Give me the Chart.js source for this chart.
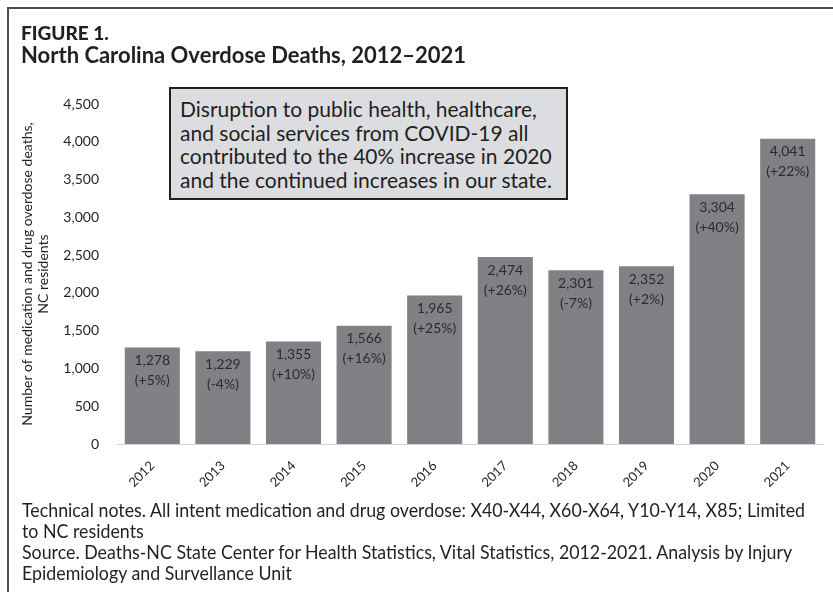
<!DOCTYPE html>
<html>
<head>
<meta charset="utf-8">
<script src="https://cdn.jsdelivr.net/npm/chart.js@4"></script>
<style>
  html, body { margin: 0; padding: 0; background: #fff; }
  body { width: 833px; height: 592px; position: relative; overflow: hidden; font-family: Lato, "Open Sans", sans-serif; color: #231f20; }
  #frame { position: absolute; left: 7px; top: 7px; width: 900px; height: 700px; border: 2px solid #4d4d4f; box-sizing: border-box; }
  #wrap { position: absolute; left: 0; top: 0; width: 833px; height: 592px; }
  .fig { position: absolute; left: 21px; top: 21px; font-size: 19px; font-weight: 900; }
  .ttl { position: absolute; left: 21px; top: 41px; font-size: 22px; font-weight: 700; }
  #note { position: absolute; left: 169px; top: 87px; width: 399px; height: 113px; box-sizing: border-box;
          border: 2px solid #231f20; background: #dcdde0; padding: 8px 0 0 9px; font-size: 21px; line-height: 23.5px; white-space: nowrap; }
  #foot { position: absolute; left: 22px; top: 499px; font-size: 19px; line-height: 21px; transform-origin: 0 0; }
  #foot div { white-space: nowrap; }
</style>
</head>
<body>
<div id="frame"></div>
<div id="wrap"><canvas id="overdoseChart" width="833" height="592"></canvas></div>
<div class="fig">FIGURE 1.</div>
<div class="ttl">North Carolina Overdose Deaths, 2012–2021</div>
<div id="note">Disruption to public health, healthcare,<br>and social services from COVID-19 all<br>contributed to the 40% increase in 2020<br>and the continued increases in our state.</div>
<div id="foot">
  <div><span id="footFirst">Technical notes. All intent medication and drug overdose: X40-X44, X60-X64, Y10-Y14, X85; Limited</span></div>
  <div>to NC residents</div>
  <div>Source. Deaths-NC State Center for Health Statistics, Vital Statistics, 2012-2021. Analysis by Injury</div>
  <div>Epidemiology and Survellance Unit</div>
</div>
<script>
// data
const years = ['2012', '2013', '2014', '2015', '2016', '2017', '2018', '2019', '2020', '2021'];
const deaths = [1278, 1229, 1355, 1566, 1965, 2474, 2301, 2352, 3304, 4041];
const changes = ['+5%', '-4%', '+10%', '+16%', '+25%', '+26%', '-7%', '+2%', '+40%', '+22%'];
const yMax = 4500;
const yStep = 500;
const yTitle = ['Number of medication and drug overdose deaths,', 'NC residents'];

// the notes use a narrow face in the original, squeeze them to the same width
const firstLine = document.getElementById('footFirst');
document.getElementById('foot').style.transform = 'scaleX(' + (783 / firstLine.offsetWidth) + ')';

// labels inside the bars
const barLabels = {
    id: 'barLabels',
    afterDatasetsDraw(chart) {
        const ctx = chart.ctx;
        const bars = chart.getDatasetMeta(0).data;
        ctx.save();
        ctx.font = '14px Lato, "Open Sans", sans-serif';
        ctx.fillStyle = '#2b2b2d';
        ctx.textAlign = 'center';
        ctx.textBaseline = 'middle';
        bars.forEach((bar, i) => {
            ctx.fillText(deaths[i].toLocaleString('en-US'), bar.x, bar.y + 13);
            ctx.fillText('(' + changes[i] + ')', bar.x, bar.y + 33);
        });
        ctx.restore();
    }
};

const chartCtx = document.getElementById('overdoseChart').getContext('2d');
const overdoseChart = new Chart(chartCtx, {
    type: 'bar',
    data: {
        labels: years,
        datasets: [{
            data: deaths,
            backgroundColor: '#808184',
            borderWidth: 0,
            barPercentage: 0.78,
            categoryPercentage: 1.0
        }]
    },
    options: {
        responsive: false,
        animation: false,
        layout: { padding: { left: 0, right: 10, top: 104, bottom: 98 } },
        plugins: {
            legend: { display: false },
            tooltip: { enabled: false }
        },
        scales: {
            x: {
                grid: { display: false },
                border: { color: '#d4d4d4', width: 1 },
                ticks: {
                    minRotation: 45,
                    maxRotation: 45,
                    padding: 6,
                    color: '#231f20',
                    font: { family: 'Lato, "Open Sans", sans-serif', size: 13 }
                },
                afterFit(scale) { scale.height = 50; }
            },
            y: {
                min: 0,
                max: yMax,
                grid: { display: false },
                border: { display: false },
                ticks: {
                    stepSize: yStep,
                    padding: 10,
                    color: '#231f20',
                    font: { family: 'Lato, "Open Sans", sans-serif', size: 14 },
                    callback: v => v.toLocaleString('en-US')
                },
                title: {
                    display: true,
                    text: yTitle,
                    color: '#231f20',
                    font: { family: 'Lato, "Open Sans", sans-serif', size: 14, lineHeight: 1.1 },
                    padding: { top: 20, bottom: 0 }
                },
                afterFit(scale) { scale.width = 117; }
            }
        }
    },
    plugins: [barLabels]
});
</script>
</body>
</html>
